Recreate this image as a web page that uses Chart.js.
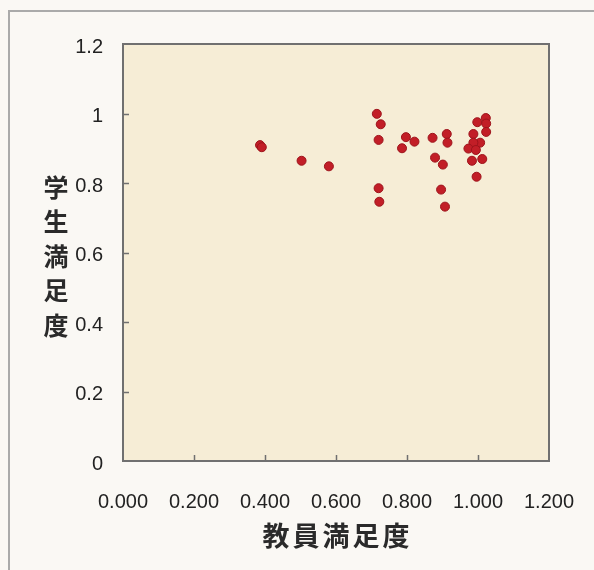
<!DOCTYPE html>
<html><head><meta charset="utf-8">
<script src="https://cdn.jsdelivr.net/npm/chart.js@4/dist/chart.umd.min.js"></script>
<style>html,body{margin:0;padding:0;background:#faf8f4}#wrap{width:594px;height:570px;position:relative}canvas{display:block}</style>
</head><body><div id="wrap"><canvas id="c" width="594" height="570"></canvas></div>
<script>
const xTitle = '教員満足度';
const yTitle = '学生満足度';
const xTickLabels = ['0.000','0.200','0.400','0.600','0.800','1.000','1.200'];
const yTickLabels = ['0','0.2','0.4','0.6','0.8','1','1.2'];
const teacherSatisfaction = [0.386,0.391,0.503,0.580,0.715,0.726,0.720,0.720,0.722,0.797,0.821,0.786,0.872,0.912,0.914,0.879,0.901,0.896,0.907,1.022,0.998,1.023,1.023,0.987,1.006,0.987,0.973,0.994,0.983,1.012,0.996];
const studentSatisfaction = [0.909,0.903,0.864,0.848,0.999,0.969,0.924,0.785,0.746,0.932,0.919,0.900,0.930,0.941,0.916,0.873,0.853,0.781,0.732,0.987,0.975,0.971,0.947,0.941,0.916,0.916,0.899,0.895,0.864,0.869,0.818];

const points = teacherSatisfaction.map((x, i) => ({x: x, y: studentSatisfaction[i]}));

const decor = {
  id: 'decor',
  beforeDraw(chart) {
    const ctx = chart.ctx, a = chart.chartArea;
    ctx.save();
    ctx.fillStyle = '#faf8f4';
    ctx.fillRect(0, 0, chart.width, chart.height);
    ctx.strokeStyle = '#aaaaaa';
    ctx.lineWidth = 2;
    ctx.beginPath();
    ctx.moveTo(9, chart.height);
    ctx.lineTo(9, 11);
    ctx.lineTo(chart.width, 11);
    ctx.stroke();
    ctx.fillStyle = '#f6edd6';
    ctx.fillRect(a.left, a.top, a.right - a.left, a.bottom - a.top);
    ctx.restore();
  },
  beforeDatasetsDraw(chart) {
    const ctx = chart.ctx, a = chart.chartArea;
    const xs = chart.scales.x, ys = chart.scales.y;
    ctx.save();
    ctx.strokeStyle = '#707070';
    ctx.lineWidth = 2;
    ctx.strokeRect(a.left, a.top, a.right - a.left, a.bottom - a.top);
    ctx.lineWidth = 1.5;
    ctx.beginPath();
    xs.ticks.forEach((t, i) => {
      if (i === 0 || i === xs.ticks.length - 1) return;
      const px = Math.round(xs.getPixelForValue(t.value)) + 0.5;
      ctx.moveTo(px, a.bottom);
      ctx.lineTo(px, a.bottom - 6);
    });
    ys.ticks.forEach((t, i) => {
      if (i === 0 || i === ys.ticks.length - 1) return;
      const py = Math.round(ys.getPixelForValue(t.value)) + 0.5;
      ctx.moveTo(a.left, py);
      ctx.lineTo(a.left + 6, py);
    });
    ctx.stroke();
    ctx.restore();
  },
  afterDraw(chart) {
    const ctx = chart.ctx, a = chart.chartArea;
    ctx.save();
    ctx.fillStyle = '#2a2a2a';
    ctx.textAlign = 'center';
    ctx.textBaseline = 'middle';
    ctx.font = 'bold 27px "Noto Sans CJK JP"';
    const xc = (a.left + a.right) / 2;
    const chars = Array.from(xTitle);
    const pitch = 30;
    chars.forEach((ch, i) => {
      ctx.fillText(ch, xc + (i - (chars.length - 1) / 2) * pitch, 536);
    });
    ctx.font = 'bold 25px "Noto Sans CJK JP"';
    Array.from(yTitle).forEach((ch, i) => {
      ctx.fillText(ch, 56, 187 + i * 34.5);
    });
    ctx.restore();
  }
};

new Chart(document.getElementById('c'), {
  type: 'scatter',
  data: {
    datasets: [{
      data: points,
      backgroundColor: '#c21e27',
      borderColor: '#9e141c',
      borderWidth: 1,
      pointRadius: 4.5,
      pointHoverRadius: 4.5
    }]
  },
  options: {
    responsive: false,
    animation: false,
    devicePixelRatio: 1,
    layout: {padding: {left: 0, top: 44, right: 45, bottom: 0}},
    plugins: {legend: {display: false}, tooltip: {enabled: false}},
    scales: {
      x: {
        type: 'linear', min: 0, max: 1.2,
        grid: {display: false, drawTicks: false},
        border: {display: false},
        afterFit(s) { s.height = 109; s.paddingLeft = 0; s.paddingRight = 0; },
        ticks: {
          stepSize: 0.2, padding: 29, maxRotation: 0, autoSkip: false,
          color: '#222', font: {family: '"Liberation Sans", Arial, sans-serif', size: 20},
          callback: (v, i) => xTickLabels[i]
        }
      },
      y: {
        type: 'linear', min: 0, max: 1.2,
        grid: {display: false, drawTicks: false},
        border: {display: false},
        afterFit(s) { s.width = 123; s.paddingTop = 0; s.paddingBottom = 0; },
        ticks: {
          stepSize: 0.2, padding: 20, autoSkip: false, labelOffset: 3,
          color: '#222', font: {family: '"Liberation Sans", Arial, sans-serif', size: 20},
          callback: (v, i) => yTickLabels[i]
        }
      }
    }
  },
  plugins: [decor]
});
</script>
</body></html>
